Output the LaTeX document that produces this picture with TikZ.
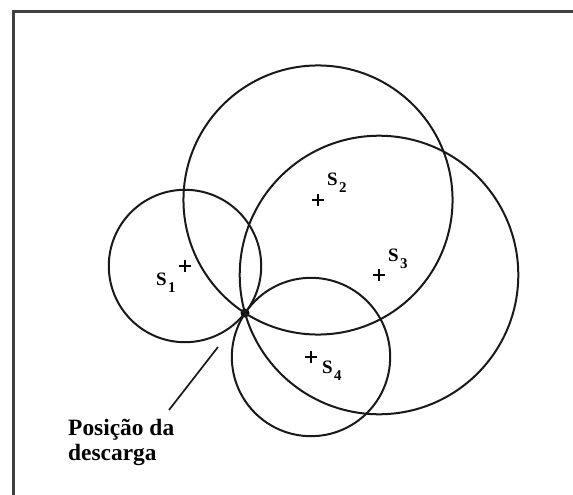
\documentclass[tikz,border=0pt]{standalone}
\usepackage{fontspec}
\setmainfont{Liberation Serif}
\usetikzlibrary{calc}
\newcommand\sensub[1]{\kern1.5bp\raisebox{-7bp}{\fontsize{15}{15}\selectfont #1}}
\begin{document}
\begin{tikzpicture}[x=1bp,y=-1bp,
  ring/.style={line width=2bp, draw=black!90},
  frameline/.style={line width=3bp, draw=black!75},
  sensorlabel/.style={anchor=base west, inner sep=0, font=\fontsize{19}{19}\selectfont\bfseries},
  caption/.style={anchor=base west, inner sep=0, font=\fontsize{23.5}{25}\selectfont\bfseries},
  pointer/.style={line width=1.7bp, draw=black!90},
  crossmark/.style={minimum size=12bp, inner sep=0, path picture={
     \draw[line width=2.2bp] (path picture bounding box.west) -- (path picture bounding box.east)
       (path picture bounding box.north) -- (path picture bounding box.south);}},
  strike/.style={circle, fill=black, inner sep=0, minimum size=9bp}]
\useasboundingbox (0,0) rectangle (573,495);
\draw[frameline] (13,500) -- (13,12) -- (580,12);

\node[strike] (D) at (245,313) {};
\coordinate (S1) at (185,266);
\coordinate (S2) at (318,200);
\coordinate (S3) at (379,275);
\coordinate (S4) at (311,357);

\foreach \s in {S1,S2,S3,S4}
  \draw[ring] let \p1=($(D.center)-(\s)$) in (\s) circle[radius={veclen(\x1,\y1)*1pt}];

\node[crossmark] (p1) at (S1) {};
\node[crossmark] (p2) at (S2) {};
\node[crossmark] (p3) at (S3) {};
\node[crossmark] (p4) at (S4) {};

\node[sensorlabel] (l1) at (156,285) {S\sensub{1}};
\node[sensorlabel] (l2) at (327,186) {S\sensub{2}};
\node[sensorlabel] (l3) at (388,261) {S\sensub{3}};
\node[sensorlabel] (l4) at (322,373) {S\sensub{4}};

\node[caption] (cap1) at (68,435) {Posição da};
\node[caption] (cap2) at (68,460) {descarga};

\coordinate (tail) at (169,410);
\coordinate (head) at (218,347);
\draw[pointer] (tail) -- (head);
\end{tikzpicture}
\end{document}
